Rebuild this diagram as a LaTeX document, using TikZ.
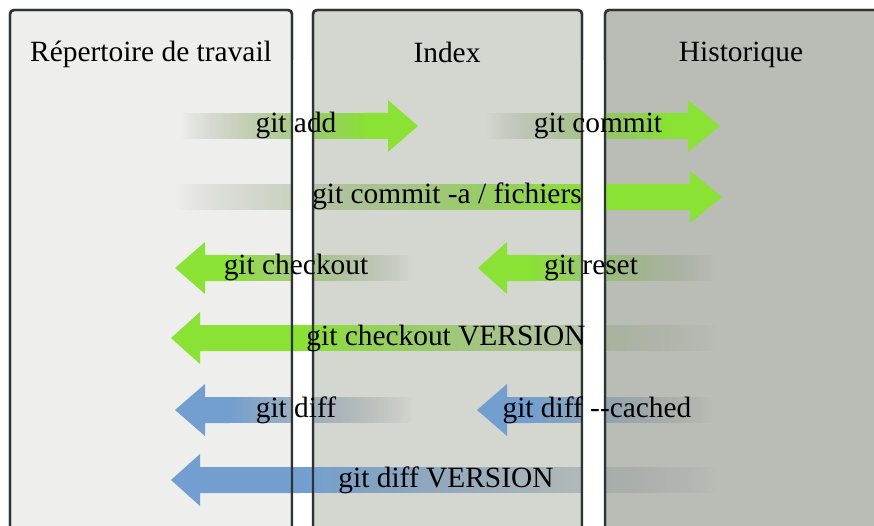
\documentclass[tikz,border=0pt]{standalone}
\usepackage{fontspec}
\setmainfont{Liberation Serif}
\definecolor{pA}{HTML}{EEEEEC}
\definecolor{pB}{HTML}{D3D7CF}
\definecolor{pC}{HTML}{BABDB6}
\definecolor{bord}{HTML}{2E3436}
\definecolor{agreen}{HTML}{8AE234}
\definecolor{ablue}{HTML}{729FCF}
\definecolor{tailgray}{HTML}{888A85}
% right arrow: y, tail, solid start, head base, tip, colour
\newcommand{\arrR}[6]{%
  \pgfmathtruncatemacro\nS{(#3-#2)/2-1}%
  \foreach \i in {0,...,\nS}{%
    \pgfmathsetmacro\tpos{(2*\i+1)/(#3-#2)}%
    \pgfmathtruncatemacro\pc{100*\tpos}%
    \pgfmathsetmacro\op{\tpos^0.8}%
    \fill[#6!\pc!tailgray, fill opacity=\op] (#2+2*\i,#1-13) rectangle (#2+2*\i+2,#1+13);
  }%
  \fill[#6] (#3-1,#1-13) -- (#4,#1-13) -- (#4,#1-26) -- (#5,#1) -- (#4,#1+26) -- (#4,#1+13) -- (#3-1,#1+13) -- cycle;}
% left arrow: y, tip, head base, solid end, tail, colour
\newcommand{\arrL}[6]{%
  \pgfmathtruncatemacro\nS{(#5-#4)/2-1}%
  \foreach \i in {0,...,\nS}{%
    \pgfmathsetmacro\tpos{1-(2*\i+1)/(#5-#4)}%
    \pgfmathtruncatemacro\pc{100*\tpos}%
    \pgfmathsetmacro\op{\tpos^0.8}%
    \fill[#6!\pc!tailgray, fill opacity=\op] (#4+2*\i,#1-13) rectangle (#4+2*\i+2,#1+13);
  }%
  \fill[#6] (#4+1,#1-13) -- (#3,#1-13) -- (#3,#1-26) -- (#2,#1) -- (#3,#1+26) -- (#3,#1+13) -- (#4+1,#1+13) -- cycle;}
\begin{document}
\begin{tikzpicture}[x=1pt,y=-1pt,
  panel/.style={draw=bord, line width=2.4pt, rounded corners=4pt},
  lbl/.style={font=\fontsize{29.4}{34}\selectfont, anchor=base, inner sep=0pt, text=black}]
\useasboundingbox (0,0) rectangle (874,526);
\clip (0,0) rectangle (874,526);
\fill[white] (0,0) rectangle (874,526);
% panels
\draw[panel, fill=pA] (10,10) rectangle (292,560);
\draw[panel, fill=pB] (313,10) rectangle (582,560);
\draw[panel, fill=pC] (605,10) rectangle (900,560);
% arrows
\arrR{126}{182}{366}{388}{418}{agreen}
\arrR{126}{487}{666}{688}{720}{agreen}
\arrR{197}{175}{590}{690}{722}{agreen}
\arrL{268}{175}{205}{228}{412}{agreen}
\arrL{268}{478}{507}{530}{716}{agreen}
\arrL{410}{175}{205}{228}{412}{ablue}
\arrL{410}{477}{507}{530}{712}{ablue}
% gap between first and second column
\fill[white] (292,60) rectangle (313,560);
\arrL{338}{171}{200}{300}{718}{agreen}
\arrL{480}{171}{200}{300}{718}{ablue}
% gap between second and third column
\fill[white] (582,60) rectangle (605,560);
% borders on top
\draw[panel] (10,10) rectangle (292,560);
\draw[panel] (313,10) rectangle (582,560);
\draw[panel] (605,10) rectangle (900,560);
% headers
\node[lbl] (hWork) at (151,62) {Répertoire de travail};
\node[lbl] (hIndex) at (447,63) {Index};
\node[lbl] (hHist) at (741,62) {Historique};
% labels
\node[lbl] (lAdd) at (296,133) {git add};
\node[lbl] (lCommit) at (598,133) {git commit};
\node[lbl] (lCommitA) at (447,204) {git commit -a / fichiers};
\node[lbl] (lCheckout) at (296,275) {git checkout};
\node[lbl] (lReset) at (591,275) {git reset};
\node[lbl] (lCheckoutV) at (446,345) {git checkout VERSION};
\node[lbl] (lDiff) at (296,417) {git diff};
\node[lbl] (lDiffC) at (597,417) {git diff -\kern0pt-cached};
\node[lbl] (lDiffV) at (446,487) {git diff VERSION};
\end{tikzpicture}
\end{document}
